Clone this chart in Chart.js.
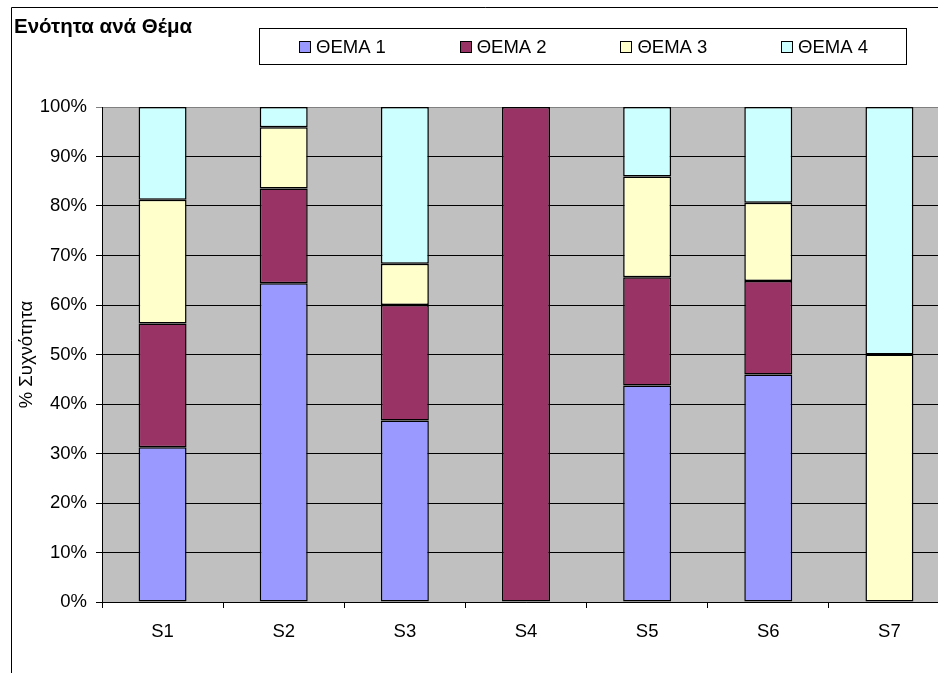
<!DOCTYPE html>
<html>
<head>
<meta charset="utf-8">
<script src="https://cdn.jsdelivr.net/npm/chart.js@4/dist/chart.umd.min.js"></script>
<style>
  html, body { margin: 0; padding: 0; background: #fff; overflow: hidden; }
  #wrap { position: relative; width: 960px; height: 673px; }
</style>
</head>
<body>
<div id="wrap"><canvas id="c" width="960" height="673"></canvas></div>
<script>
// Share of each theme (%) per unit S1..S7
const categories = ['S1', 'S2', 'S3', 'S4', 'S5', 'S6', 'S7'];
const thema1 = [31.25, 64.38, 36.67, 0, 43.75, 45.95, 0];
const thema2 = [25.00, 19.18, 23.33, 100, 21.88, 18.92, 0];
const thema3 = [25.00, 12.33, 8.33, 0, 20.31, 15.80, 50];
const thema4 = [18.75, 4.11, 31.67, 0, 14.06, 19.33, 50];
const seriesLabels = ['ΘΕΜΑ 1', 'ΘΕΜΑ 2', 'ΘΕΜΑ 3', 'ΘΕΜΑ 4'];
const seriesColors = ['#9999FF', '#993366', '#FFFFCC', '#CCFFFF'];
const yTicks = [0, 10, 20, 30, 40, 50, 60, 70, 80, 90, 100];
const chartTitle = 'Ενότητα ανά Θέμα';
const yAxisTitle = '% Συχνότητα';

const FONT = "'Liberation Sans', Arial, sans-serif";

const values = [thema1, thema2, thema3, thema4];
const datasets = values.map((v, i) => ({
  label: seriesLabels[i],
  data: v,
  backgroundColor: seriesColors[i],
  borderColor: '#000000',
  borderWidth: 1.5,
  borderSkipped: false,
  barPercentage: 1,
  categoryPercentage: 0.396
}));

// Grey plot background, outer frame, title, legend box and y title
const decor = {
  id: 'decor',
  beforeDraw(chart) {
    const { ctx, chartArea: a } = chart;
    ctx.save();
    ctx.fillStyle = '#C0C0C0';
    ctx.fillRect(a.left, a.top, a.right - a.left, a.bottom - a.top);
    ctx.restore();
  },
  afterDraw(chart) {
    const { ctx, chartArea: a } = chart;
    ctx.save();
    // outer frame (left and top edges)
    ctx.strokeStyle = '#000';
    ctx.lineWidth = 1;
    ctx.beginPath();
    ctx.moveTo(11.5, 673);
    ctx.lineTo(11.5, 7.5);
    ctx.lineTo(960, 7.5);
    ctx.stroke();

    // title
    ctx.fillStyle = '#000';
    ctx.font = 'bold 20.5px ' + FONT;
    ctx.textAlign = 'left';
    ctx.textBaseline = 'alphabetic';
    ctx.fillText(chartTitle, 14, 33);

    // legend box
    ctx.fillStyle = '#fff';
    ctx.fillRect(259.5, 28.5, 647, 36);
    ctx.strokeStyle = '#000';
    ctx.strokeRect(259.5, 28.5, 647, 36);
    ctx.font = '18.5px ' + FONT;
    chart.data.datasets.forEach((ds, i) => {
      const x = 299 + i * 160.7;
      ctx.fillStyle = ds.backgroundColor;
      ctx.fillRect(Math.round(x) + 0.5, 41.5, 11, 11);
      ctx.strokeStyle = '#000';
      ctx.strokeRect(Math.round(x) + 0.5, 41.5, 11, 11);
      ctx.fillStyle = '#000';
      ctx.fillText(ds.label, x + 17, 53);
    });

    // y axis title
    ctx.translate(27, (a.top + a.bottom) / 2);
    ctx.rotate(-Math.PI / 2);
    ctx.textAlign = 'center';
    ctx.textBaseline = 'middle';
    ctx.font = '18.5px ' + FONT;
    ctx.fillText(yAxisTitle, 0, 0);
    ctx.restore();
  }
};

new Chart(document.getElementById('c'), {
  type: 'bar',
  data: { labels: categories, datasets },
  plugins: [decor],
  options: {
    responsive: false,
    animation: false,
    layout: { padding: { left: 0, top: 107, right: 10, bottom: 21 } },
    plugins: { legend: { display: false }, title: { display: false }, tooltip: { enabled: false } },
    scales: {
      x: {
        stacked: true,
        afterFit: s => { s.height = 50; },
        grid: {
          offset: true,
          drawOnChartArea: false,
          drawTicks: true,
          tickLength: 6,
          color: '#000'
        },
        border: { color: '#000', width: 1 },
        ticks: { color: '#000', font: { family: FONT, size: 18.5 }, padding: 13 }
      },
      y: {
        stacked: true,
        min: 0,
        max: 100,
        afterFit: s => { s.width = 102; },
        afterBuildTicks: s => { s.ticks = yTicks.map(v => ({ value: v })); },
        grid: {
          color: ctx => (ctx.tick && ctx.tick.value === 100 ? '#808080' : '#000'),
          lineWidth: 1,
          drawTicks: true,
          tickLength: 6
        },
        border: { color: '#000', width: 1 },
        ticks: {
          color: '#000',
          font: { family: FONT, size: 18.5 },
          padding: 9,
          callback: v => v + '%'
        }
      }
    }
  }
});
</script>
</body>
</html>
